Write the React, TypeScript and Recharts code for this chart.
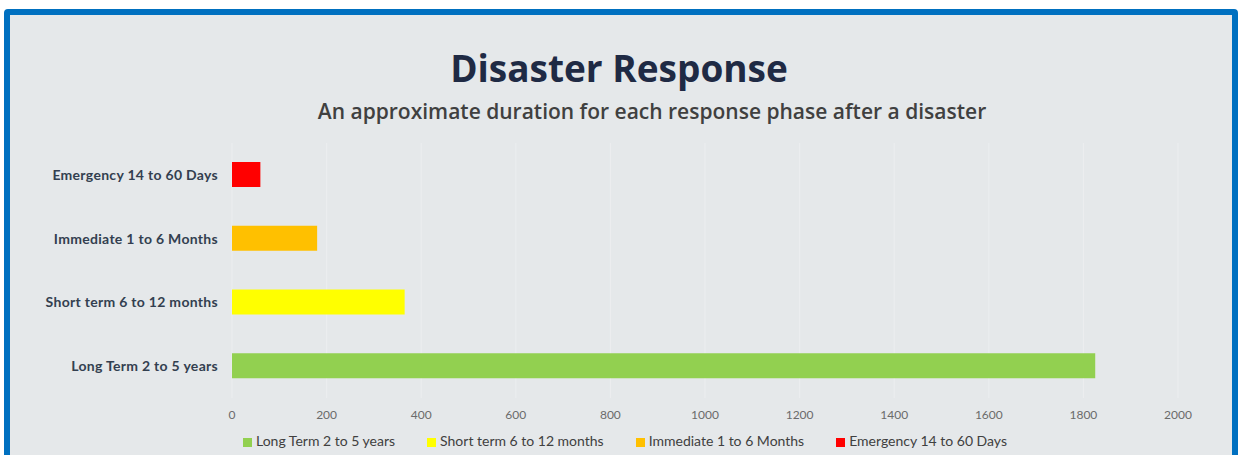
import { BarChart, Bar, XAxis, YAxis, CartesianGrid, Legend } from 'recharts';

// categories top to bottom as drawn
const categories = [
  'Emergency 14 to 60 Days',
  'Immediate 1 to 6 Months',
  'Short term 6 to 12 months',
  'Long Term 2 to 5 years',
];
const durations = [60, 180, 365, 1825];

// legend / series order
const seriesNames = [
  'Long Term 2 to 5 years',
  'Short term 6 to 12 months',
  'Immediate 1 to 6 Months',
  'Emergency 14 to 60 Days',
];
const seriesColors = ['#92d050', '#ffff00', '#ffc000', '#ff0000'];

const xTicks = [0, 200, 400, 600, 800, 1000, 1200, 1400, 1600, 1800, 2000];

const chartData = categories.map((name, i) => ({
  name,
  [name]: durations[i],
}));

export default function App() {
  return (
    <div
      style={{
        position: 'fixed',
        left: 0,
        top: 0,
        width: 1238,
        height: 455,
        background: '#ffffff',
        overflow: 'hidden',
      }}
    >
      <div
        style={{
          position: 'absolute',
          left: 4,
          top: 9,
          width: 1234,
          height: 470,
          boxSizing: 'border-box',
          border: '6px solid #0070c0',
          borderRadius: 4,
          background: '#e5e8ea',
        }}
      />
      <div
        style={{
          position: 'absolute',
          left: 0,
          top: 42,
          width: 1238,
          textAlign: 'center',
          fontFamily: '"Open Sans", sans-serif',
          fontWeight: 700,
          fontSize: 37,
          lineHeight: '52px',
          color: '#1f2a44',
        }}
      >
        Disaster Response
      </div>
      <div
        style={{
          position: 'absolute',
          left: 33,
          top: 96,
          width: 1238,
          textAlign: 'center',
          fontFamily: '"Open Sans", sans-serif',
          fontWeight: 600,
          fontSize: 21,
          lineHeight: '30px',
          color: '#404040',
        }}
      >
        An approximate duration for each response phase after a disaster
      </div>
      <div style={{ position: 'absolute', left: 0, top: 0 }}>
        <BarChart
          width={1238}
          height={455}
          data={chartData}
          layout="vertical"
          margin={{ top: 143, right: 60, bottom: 0, left: 0 }}
          barSize={25}
        >
          <CartesianGrid horizontal={false} stroke="#eceef0" strokeWidth={1} />
          <XAxis
            type="number"
            domain={[0, 2000]}
            ticks={xTicks}
            axisLine={false}
            tickLine={false}
            tickMargin={6}
            height={57}
            tick={{ fill: '#6b6b6b', fontSize: 12, fontFamily: 'Lato, sans-serif' }}
          />
          <YAxis
            type="category"
            dataKey="name"
            width={232}
            axisLine={false}
            tickLine={false}
            tickMargin={8}
            tick={{
              fill: '#333f50',
              fontSize: 14,
              fontWeight: 700,
              fontFamily: 'Lato, sans-serif',
              letterSpacing: 0.3,
            }}
          />
          {seriesNames.map((s, i) => (
            <Bar
              key={s}
              dataKey={s}
              name={s}
              stackId="a"
              fill={seriesColors[i]}
              isAnimationActive={false}
            />
          ))}
          <Legend
            layout="horizontal"
            verticalAlign="middle"
            align="center"
            iconType="square"
            iconSize={9}
            itemSorter={(item: any) => seriesNames.indexOf(item.value)}
            wrapperStyle={{ top: 432, left: 22, width: 1238 }}
            formatter={(value) => (
              <span style={{ color: '#404040', fontSize: 14, fontFamily: 'Lato, sans-serif', marginRight: 22 }}>
                {value}
              </span>
            )}
          />
        </BarChart>
      </div>
    </div>
  );
}
